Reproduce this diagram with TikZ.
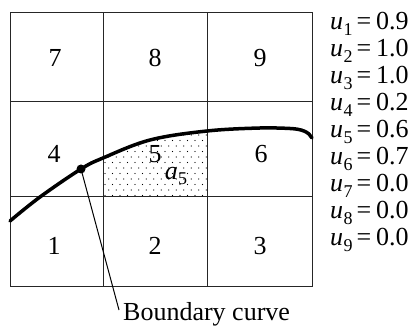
\documentclass[tikz,border=0pt]{standalone}
\usepackage{fontspec}
\setmainfont{Liberation Serif}
\newcommand\subsc[2]{\textit{#1}\kern0.3pt\raisebox{-0.22em}{\fontsize{18}{18}\selectfont #2}}
\newcommand\uval[2]{\subsc{u}{#1}\kern4pt=\kern5pt#2}
\begin{document}
\begin{tikzpicture}[x=1pt,y=-1pt,
  gridline/.style={line width=1pt, draw=black!85},
  bcurve/.style={line width=3.5pt, line cap=round},
  lbl/.style={font=\fontsize{26}{30}\selectfont, inner sep=0pt},
  dotnode/.style={circle, fill=black, inner sep=0pt, minimum size=9pt}]
\useasboundingbox (0,0) rectangle (412,328);
% dotted area
\begin{scope}
  \clip (103,125) rectangle (207,197);
  \clip plot[smooth, tension=0.6] coordinates {(10,221) (40,197) (81,169) (103,158) (150,140) (207,131) (260,128) (290,128.5)} -- (312,300) -- (10,300) -- cycle;
  \foreach \r in {0,...,13} {
    \pgfmathsetmacro\yy{195.5-5.5*\r}
    \pgfmathsetmacro\off{mod(\r,2)*3.75}
    \foreach \c in {0,...,14} {
      \fill ({105+\off+7.5*\c},\yy) circle (0.65pt);
    }
  }
\end{scope}
% grid
\draw[gridline] (10,13) rectangle (312,287);
\draw[gridline] (103,13) -- (103,287);
\draw[gridline] (207,13) -- (207,287);
\draw[gridline] (10,102) -- (312,102);
\draw[gridline] (10,197) -- (312,197);
% cell numbers
\node[lbl] (c7) at (55,58) {7};
\node[lbl] (c8) at (155,58) {8};
\node[lbl] (c9) at (260,58) {9};
\node[lbl] (c4) at (54,154) {4};
\node[lbl] (c5) at (155,154) {5};
\node[lbl] (c6) at (261,154) {6};
\node[lbl] (c1) at (54,246) {1};
\node[lbl] (c2) at (155,246) {2};
\node[lbl] (c3) at (260,246) {3};
\node[lbl] (a5) at (176,176) {\subsc{a}{5}};
% boundary curve
\draw[bcurve] plot[smooth, tension=0.6] coordinates {(10,221) (40,197) (81,169) (103,158) (150,140) (207,131) (260,128) (290,128.5)} .. controls (302,129) and (309,132) .. (312,138);
\node[dotnode] (d) at (81,169) {};
\node[lbl, anchor=base west] (blabel) at (123,320) {Boundary curve};
\coordinate (lend) at (119,310);
\draw[line width=1pt] (d.center) -- (lend);
% values
\foreach \i/\v [count=\k from 0] in {1/0.9,2/1.0,3/1.0,4/0.2,5/0.6,6/0.7,7/0.0,8/0.0,9/0.0} {
  \node[lbl, anchor=base west] (u\i) at (330,{30+27*\k}) {\uval{\i}{\v}};
}
\end{tikzpicture}
\end{document}
